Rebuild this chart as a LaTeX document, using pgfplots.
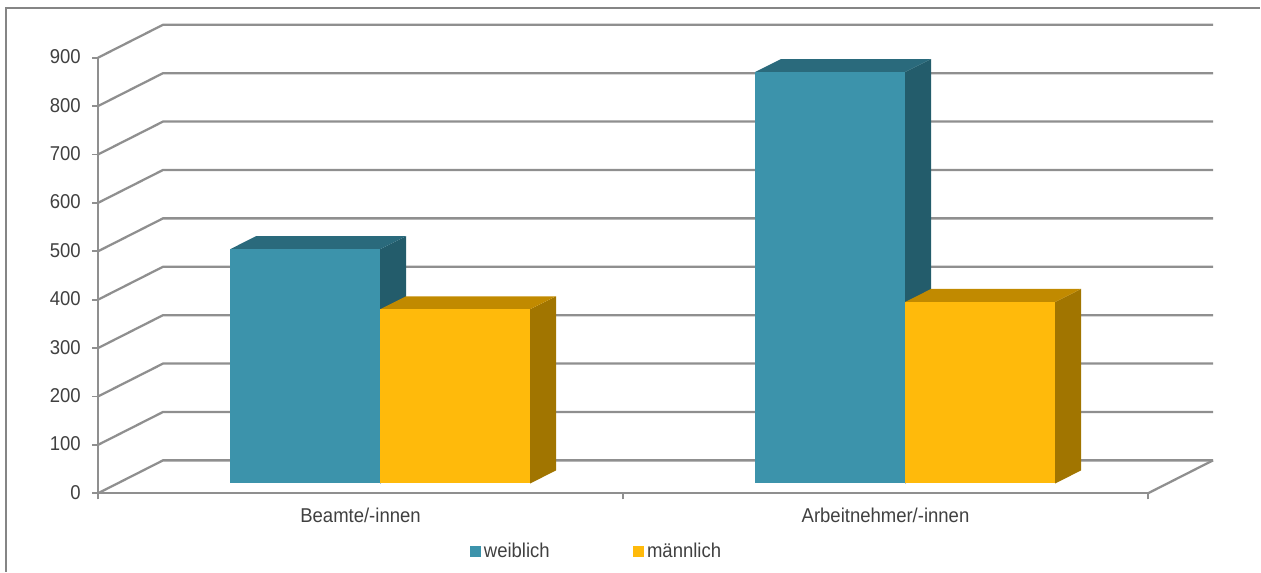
\documentclass[border=0pt]{standalone}
\usepackage{pgfplots}
\pgfplotsset{compat=1.18}
\usepackage{fontspec}
\setmainfont[FakeStretch=0.925]{Liberation Sans}
\definecolor{gridc}{HTML}{8F8F8F}
\definecolor{framec}{HTML}{858585}
\definecolor{textc}{HTML}{404040}
\definecolor{tealF}{HTML}{3C93AB}
\definecolor{tealT}{HTML}{2A6A7C}
\definecolor{tealS}{HTML}{235C6B}
\definecolor{yelF}{HTML}{FFBA0B}
\definecolor{yelT}{HTML}{C18A00}
\definecolor{yelS}{HTML}{A17500}
\newcommand{\gl}[2]{\addplot[gridc,line width=1.7pt,forget plot] coordinates {(98,#1) (163,#2) (1213,#2)};}
\newcommand{\poly}[2]{\addplot[fill=#1,draw=none,forget plot] coordinates {#2} -- cycle;}
\begin{document}
\begin{tikzpicture}
\begin{axis}[
  scale only axis, width=787.5pt, height=326.7pt,
  xmin=98, xmax=1148, ymin=0, ymax=900,
  clip=false,
  axis x line=bottom, axis y line=left,
  axis line style={gridc,line width=1.7pt,-},
  tick style={gridc,line width=1.3pt},
  tick align=outside, major tick length=4.5pt,
  xtick={98,623,1148}, xticklabels={},
  extra x ticks={360.5,885.5},
  extra x tick labels={Beamte/-innen,Arbeitnehmer/-innen},
  extra x tick style={major tick length=0pt},
  ytick={0,100,...,900},
  /pgf/number format/assume math mode=true,
  /pgf/number format/.cd, 1000 sep={},
  /pgfplots/.cd,
  tick label style={font=\fontsize{15pt}{17pt}\selectfont,text=textc},
  xticklabel style={yshift=-7.5pt},
  yticklabel style={xshift=-5pt,yshift=0.7pt},
  legend style={at={(axis cs:466,-119)},anchor=west,draw=none,fill=none,
    legend columns=2,font=\fontsize{15pt}{17pt}\selectfont,text=textc,
    /tikz/every odd column/.append style={column sep=0.75pt},
    /tikz/every even column/.append style={column sep=60.75pt}},
  legend cell align=left,
]
% frame
\addplot[framec,line width=1.5pt,forget plot] coordinates {(6,-162.6) (6,1002.7) (1260,1002.7)};
% grid on walls and floor
\gl{0}{68}\gl{100}{168}\gl{200}{268}\gl{300}{368}\gl{400}{468}
\gl{500}{568}\gl{600}{668}\gl{700}{768}\gl{800}{868}\gl{900}{968}
\addplot[gridc,line width=1.7pt,forget plot] coordinates {(1148,0) (1213,68)};
% first group, weiblich
\poly{tealS}{(380,20.2) (406,47.1) (406,531.1) (380,504.2)}
\poly{tealT}{(230,504.2) (380,504.2) (406,531.1) (256,531.1)}
\addplot[ybar,bar width=150,bar shift=-75,fill=tealF,draw=none,yshift=7.35pt,forget plot] coordinates {(380,484)};
% first group, maennlich
\poly{yelS}{(530,20.2) (556,47.1) (556,407.1) (530,380.2)}
\poly{yelT}{(380,380.2) (530,380.2) (556,407.1) (406,407.1)}
\addplot[ybar,bar width=150,bar shift=75,fill=yelF,draw=none,yshift=7.35pt,forget plot] coordinates {(380,360)};
% second group, weiblich
\poly{tealS}{(905,20.2) (931,47.1) (931,897.1) (905,870.2)}
\poly{tealT}{(755,870.2) (905,870.2) (931,897.1) (781,897.1)}
\addplot[ybar,bar width=150,bar shift=-75,fill=tealF,draw=none,yshift=7.35pt,forget plot] coordinates {(905,850)};
% second group, maennlich
\poly{yelS}{(1055,20.2) (1081,47.1) (1081,422.1) (1055,395.2)}
\poly{yelT}{(905,395.2) (1055,395.2) (1081,422.1) (931,422.1)}
\addplot[ybar,bar width=150,bar shift=75,fill=yelF,draw=none,yshift=7.35pt,forget plot] coordinates {(905,375)};
% legend
\addlegendimage{only marks,mark=square*,mark size=3.75pt,color=tealF}
\addlegendentry{weiblich}
\addlegendimage{only marks,mark=square*,mark size=3.75pt,color=yelF}
\addlegendentry{männlich}
\path (axis cs:0,-162.6) rectangle (axis cs:1260,1019.2);
\end{axis}
\end{tikzpicture}
\end{document}
